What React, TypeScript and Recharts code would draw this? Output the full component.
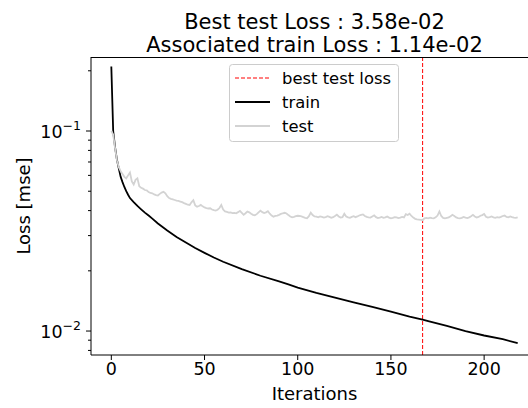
import { LineChart, Line, XAxis, YAxis, ReferenceLine } from "recharts";

// test loss, one value per iteration (0..218)
const TEST_LOSS = [
  0.1, 0.096, 0.082, 0.0715, 0.066, 0.063, 0.061, 0.059, 0.058, 0.06,
  0.062, 0.056, 0.054, 0.057, 0.058, 0.053, 0.052, 0.0515, 0.0507, 0.0505,
  0.0495, 0.049, 0.0488, 0.0482, 0.0478, 0.0476, 0.0485, 0.0492, 0.0497, 0.0488,
  0.0472, 0.0462, 0.0458, 0.0455, 0.0452, 0.0449, 0.0447, 0.0444, 0.0441, 0.0436,
  0.0432, 0.0428, 0.0427, 0.044, 0.0451, 0.0425, 0.0418, 0.0422, 0.0427, 0.042,
  0.0415, 0.0412, 0.041, 0.0411, 0.0405, 0.0402, 0.04, 0.0404, 0.0412, 0.0427,
  0.0405, 0.0396, 0.0394, 0.0391, 0.0392, 0.0389, 0.039, 0.0388, 0.0393, 0.0399,
  0.039, 0.0381, 0.0388, 0.0396, 0.0392, 0.0386, 0.0381, 0.0379, 0.0384, 0.0392,
  0.04, 0.0393, 0.0389, 0.0392, 0.0397, 0.0386, 0.0378, 0.0373, 0.0376, 0.0378,
  0.0381, 0.0385, 0.0388, 0.039, 0.0387, 0.038, 0.0374, 0.037, 0.0372, 0.0375,
  0.0377, 0.0376, 0.0374, 0.0371, 0.0368, 0.0366, 0.0375, 0.0391, 0.038, 0.0374,
  0.0373, 0.037, 0.0374, 0.0372, 0.0369, 0.0371, 0.0375, 0.0372, 0.0368, 0.0371,
  0.0376, 0.0382, 0.0374, 0.0369, 0.0371, 0.0386, 0.0374, 0.037, 0.0368, 0.0372,
  0.0375, 0.0371, 0.0374, 0.0378, 0.0381, 0.0383, 0.0376, 0.0372, 0.037, 0.0369,
  0.0374, 0.0379, 0.0371, 0.0367, 0.0369, 0.0372, 0.0368, 0.037, 0.0374, 0.0369,
  0.0366, 0.0368, 0.0371, 0.037, 0.0367, 0.0369, 0.0372, 0.037, 0.0384, 0.038,
  0.0386, 0.0376, 0.0369, 0.0364, 0.0362, 0.0361, 0.036, 0.0358, 0.0366, 0.0368,
  0.0366, 0.0369, 0.0367, 0.0366, 0.037, 0.0378, 0.0396, 0.0376, 0.0368, 0.0366,
  0.0368, 0.037, 0.0375, 0.0381, 0.0376, 0.037, 0.0367, 0.0366, 0.0368, 0.0372,
  0.0369, 0.0367, 0.037, 0.0375, 0.0381, 0.0374, 0.0369, 0.0372, 0.0377, 0.038,
  0.0385, 0.0373, 0.0369, 0.0371, 0.0374, 0.037, 0.0368, 0.0371, 0.0369, 0.0372,
  0.0376, 0.0378, 0.0372, 0.037, 0.0374, 0.0371, 0.0369, 0.0368, 0.037,
];

// train loss is smooth, read at these iterations
const TRAIN_ITERS = [
  0, 1, 2, 3, 4, 5, 6, 7, 8, 9, 10, 12, 14, 16, 18, 20, 22, 25, 30, 35,
  40, 45, 50, 55, 60, 70, 80, 90, 95, 100, 110, 120, 130, 140, 150, 160,
  167, 170, 180, 190, 200, 210, 218,
];
const TRAIN_LOSS = [
  0.21, 0.1, 0.083, 0.072, 0.065, 0.059, 0.0555, 0.0525, 0.05, 0.048,
  0.0462, 0.0441, 0.0422, 0.0406, 0.0391, 0.0378, 0.0365, 0.0345, 0.0318, 0.0295,
  0.0277, 0.026, 0.0246, 0.0233, 0.0222, 0.0204, 0.0189, 0.0177, 0.0171,
  0.0165, 0.0155, 0.0147, 0.0139, 0.0132, 0.0125, 0.0118, 0.0114, 0.0112,
  0.0106, 0.01, 0.0095, 0.0091, 0.0087,
];

const BEST_ITER = 167;
const TITLE = ["Best test Loss : 3.58e-02", "Associated train Loss : 1.14e-02"];
const X_TICKS = [0, 50, 100, 150, 200];
const Y_TICKS = [
  0.008, 0.009, 0.01, 0.02, 0.03, 0.04, 0.05, 0.06, 0.07, 0.08, 0.09, 0.1, 0.2,
];
const LEGEND = [
  { label: "best test loss", color: "#ff0000", dash: "4 2" },
  { label: "train", color: "#000000", dash: undefined },
  { label: "test", color: "#d3d3d3", dash: undefined },
];

const X_DOMAIN = [-10.9, 228.9];
const Y_DOMAIN = [0.00759, 0.2344];

const testData = TEST_LOSS.map((loss, iter) => ({ iter, loss }));
const trainData = TRAIN_ITERS.map((iter, i) => ({ iter, loss: TRAIN_LOSS[i] }));

const FONT = "'DejaVu Sans', sans-serif";

function LogTick(props: any) {
  const { x, y, payload } = props;
  const lg = Math.log10(payload.value);
  const exp = Math.round(lg);
  const major = Math.abs(lg - exp) < 1e-6;
  const len = major ? 5 : 3;
  return (
    <g>
      <line x1={x - len} x2={x} y1={y} y2={y} stroke="#000" strokeWidth={1} />
      {major && (
        <text
          x={x - 10}
          y={y + 6.5}
          textAnchor="end"
          fontSize={17.5}
          fill="#000"
          fontFamily={FONT}
        >
          <tspan>10</tspan>
          <tspan dy={-7.5} fontSize={12.5}>
            {"\u2212" + -exp}
          </tspan>
        </text>
      )}
    </g>
  );
}

export default function App() {
  return (
    <div
      style={{
        position: "absolute",
        left: 0,
        top: 0,
        width: 528,
        height: 408,
        overflow: "hidden",
        background: "#fff",
        fontFamily: FONT,
      }}
    >
      <LineChart
        width={539}
        height={408}
        margin={{ top: 57, right: 1, bottom: 0, left: 0 }}
      >
        <XAxis
          dataKey="iter"
          type="number"
          domain={X_DOMAIN}
          ticks={X_TICKS}
          allowDataOverflow
          height={53}
          tickSize={5}
          tickMargin={3}
          stroke="#000"
          tick={{ fontSize: 17.5, fill: "#000", fontFamily: FONT }}
          label={{
            value: "Iterations",
            position: "insideBottom",
            offset: 8,
            fontSize: 18,
            fill: "#000",
            fontFamily: FONT,
          }}
        />
        <YAxis
          dataKey="loss"
          type="number"
          scale="log"
          domain={Y_DOMAIN}
          allowDataOverflow
          ticks={Y_TICKS}
          width={91}
          tickSize={0}
          tickMargin={0}
          tickLine={false}
          stroke="#000"
          tick={<LogTick />}
          interval={0}
        />
        <ReferenceLine
          x={BEST_ITER}
          stroke="#ff0000"
          strokeDasharray="4 2"
          strokeWidth={1}
        />
        <Line
          data={trainData}
          dataKey="loss"
          type="linear"
          stroke="#000"
          strokeWidth={1.8}
          dot={false}
          isAnimationActive={false}
        />
        <Line
          data={testData}
          dataKey="loss"
          type="linear"
          stroke="#d3d3d3"
          strokeWidth={1.8}
          dot={false}
          isAnimationActive={false}
        />
      </LineChart>

      {/* top spine of the axes frame (right spine falls outside the crop) */}
      <div
        style={{
          position: "absolute",
          left: 91,
          top: 57,
          width: 437,
          height: 0,
          borderTop: "1px solid #000",
          zIndex: 10,
        }}
      />

      <svg
        width={528}
        height={408}
        style={{
          position: "absolute",
          left: 0,
          top: 0,
          pointerEvents: "none",
          zIndex: 10,
        }}
      >
        {TITLE.map((t, i) => (
          <text
            key={t}
            x={314.5}
            y={29 + i * 23}
            textAnchor="middle"
            fontSize={21}
            fill="#000"
            fontFamily={FONT}
          >
            {t}
          </text>
        ))}
        <text
          transform="translate(30,206) rotate(-90)"
          textAnchor="middle"
          fontSize={18}
          fill="#000"
          fontFamily={FONT}
        >
          Loss [mse]
        </text>
        <g transform="translate(229,64)">
          <rect
            x={0.5}
            y={0.5}
            width={169}
            height={77}
            rx={3}
            fill="#fff"
            fillOpacity={0.8}
            stroke="#cccccc"
          />
          {LEGEND.map((item, i) => (
            <g key={item.label} transform={`translate(0,${14 + i * 24})`}>
              <line
                x1={6}
                x2={41}
                y1={0}
                y2={0}
                stroke={item.color}
                strokeWidth={item.dash ? 1 : 1.8}
                strokeDasharray={item.dash}
              />
              <text x={53} y={6} fontSize={16.4} fill="#000" fontFamily={FONT}>
                {item.label}
              </text>
            </g>
          ))}
        </g>
      </svg>
    </div>
  );
}
